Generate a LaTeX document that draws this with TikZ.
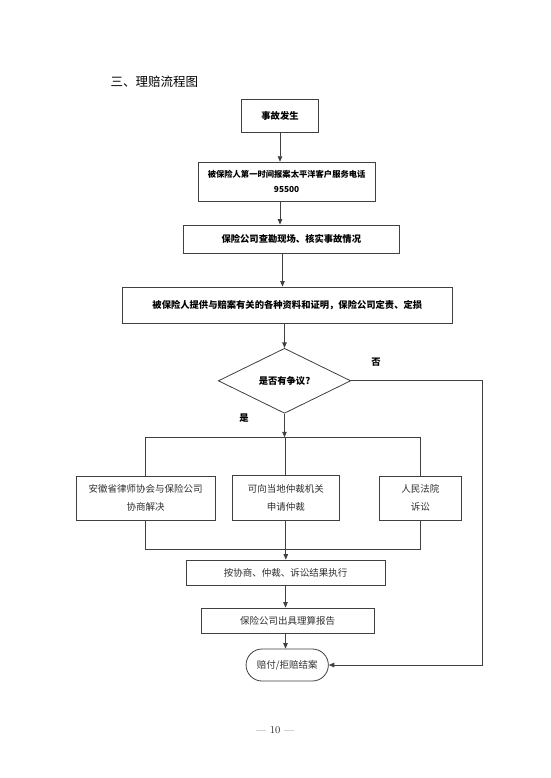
\documentclass[tikz,border=0pt]{standalone}
\usepackage{fontspec}
\newfontfamily\cjk{Noto Sans CJK SC}
\usetikzlibrary{shapes.geometric}
\usetikzlibrary{shapes.misc}
\usetikzlibrary{arrows.meta}
\usetikzlibrary{positioning}

\definecolor{lin}{HTML}{404040}
\definecolor{txt}{HTML}{303030}

\tikzset{
    stepbox/.style={draw=lin, line width=0.9pt, inner sep=0pt, align=center,
        font=\cjk\bfseries\fontsize{9.3}{15}\selectfont},
    waybox/.style={draw=lin, line width=0.8pt, inner sep=0pt, align=center, text=txt,
        font=\cjk\fontsize{9.5}{18}\selectfont},
    conn/.style={draw=lin, line width=0.8pt},
    arr/.style={conn, -{Triangle[width=4.5pt,length=5.5pt]}},
    tag/.style={font=\cjk\bfseries\fontsize{9.3}{11}\selectfont}
}

\begin{document}
\begin{tikzpicture}[x=1pt, y=-1pt]
            \useasboundingbox (0,0) rectangle (550,778);
            \fill[white] (0,0) rectangle (550,778);

            % Title
            \node[anchor=west, font=\cjk\fontsize{12.5}{14}\selectfont, inner sep=0pt] (title) at (110.5,81.7) {三、理赔流程图};

            % Main steps
            \node[stepbox, minimum width=77pt, minimum height=33pt] (accident) at (280,115.8) {事故发生};
            \node[stepbox, minimum width=176.7pt, minimum height=38.7pt,
                font=\cjk\bfseries\fontsize{8.3}{15}\selectfont] (report) at (286.6,181.6)
                {被保险人第一时间报案太平洋客户服务电话\\95500};
            \node[stepbox, minimum width=216pt, minimum height=28.3pt] (survey) at (291.3,239.2) {保险公司查勘现场、核实事故情况};
            \node[stepbox, minimum width=329.3pt, minimum height=36pt] (proof) at (287.3,305)
                {被保险人提供与赔案有关的各种资料和证明，保险公司定责、定损};

            % Decision
            \node[draw=lin, line width=0.8pt, diamond, minimum width=132.4pt, minimum height=65pt,
                inner sep=0pt, tag] (dispute) at (284.5,380.8) {是否有争议?};
            \node[tag] (no) at (376,362) {否};
            \node[tag] (yes) at (244,418.5) {是};

            % Ways to settle
            \node[waybox, minimum width=139.3pt, minimum height=44pt] (lawyer) at (145.7,498)
                {安徽省律师协会与保险公司\\协商解决};
            \node[waybox, minimum width=106.3pt, minimum height=45pt] (arbit) at (285.8,497.5)
                {可向当地仲裁机关\\申请仲裁};
            \node[waybox, minimum width=82.7pt, minimum height=44pt] (court) at (420.3,498)
                {人民法院\\诉讼};

            % Final steps
            \node[waybox, minimum width=199pt, minimum height=25pt] (execute) at (285.5,572.5) {按协商、仲裁、诉讼结果执行};
            \node[waybox, minimum width=173.3pt, minimum height=25pt] (calc) at (287.7,620.5) {保险公司出具理算报告};
            \node[waybox, rounded rectangle, minimum width=82.3pt, minimum height=32pt] (close) at (287.2,665) {赔付/拒赔结案};

            % Page number
            \node[font=\fontsize{10.5}{12}\selectfont, text=txt] (page) at (275,730) {— 10 —};

            % Bus lines
            \coordinate (busT) at (0,437.3);
            \coordinate (busB) at (0,549);
            \coordinate (col) at (282.5,0);
            \coordinate (ret) at (482.7,0);

            % Arrows
            \draw[arr] (accident.south) -- (accident.south |- report.north);
            \draw[arr] (accident |- report.south) -- (accident |- survey.north);
            \draw[arr] (col |- survey.south) -- (col |- proof.north);
            \draw[arr] (dispute |- proof.south) -- (dispute.north);
            \draw[arr] (dispute.south) -- (dispute.south |- busT);
            \draw[conn] (lawyer.north) -- (lawyer.north |- busT) -- (court.north |- busT) -- (court.north);
            \draw[conn] (arbit.north) -- (arbit.north |- busT);
            \draw[conn] (lawyer.south) -- (lawyer.south |- busB) -- (court.south |- busB) -- (court.south);
            \draw[arr] (arbit.south) -- (arbit.south |- execute.north);
            \draw[arr] (execute.south) -- (execute.south |- calc.north);
            \draw[arr] (execute |- calc.south) -- (execute |- close.north);
            \draw[arr] (dispute.east) -- (dispute.east -| ret) |- (close.east);

        \end{tikzpicture}
\end{document}
